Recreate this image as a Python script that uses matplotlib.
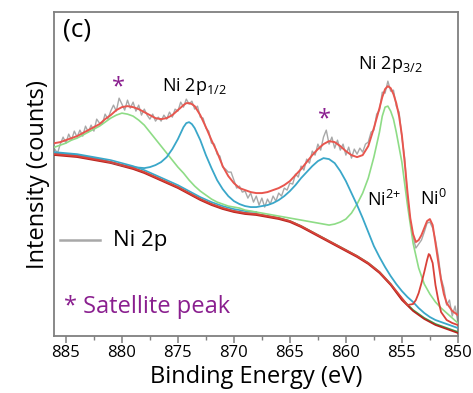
import matplotlib
matplotlib.use("Agg")
import matplotlib.pyplot as plt
from matplotlib.ticker import MultipleLocator

plt.rcParams['font.family'] = ['Open Sans', 'DejaVu Sans']
plt.rcParams['mathtext.fontset'] = 'custom'
plt.rcParams['mathtext.rm'] = 'Open Sans'
plt.rcParams['mathtext.it'] = 'Open Sans'

# ---------------- data (arbitrary intensity units) ----------------
# Shirley-type background
bg_E = [886, 885, 884, 883, 882, 881, 880, 879, 878, 877, 876, 875, 874, 873,
        872, 871, 870, 869, 868, 867, 866, 865, 864, 863, 862, 861, 860, 859,
        858, 857, 856, 855, 854, 853, 852, 851, 850]
bg_I = [182, 181, 180, 178, 176, 174, 171, 168, 164, 159, 154, 149, 143, 137,
        132, 128, 125, 123, 122, 120, 118, 115, 110, 104, 98, 92, 86, 80,
        73, 64, 52, 37, 26, 18, 12, 8, 4]

# cyan background copy (left part)
bgc_E = [886, 885, 884, 883, 882, 881, 880, 879, 878, 877, 876, 875, 874, 873,
         872, 871, 870, 869, 868]
bgc_I = [184, 183, 182, 180, 178, 176, 173, 170, 166, 161, 156, 151, 145, 139,
         134, 130, 127, 125, 124]

# green component: satellite (~880 eV) + Ni2+ 2p3/2 (~856.5 eV) + background
green_E = [886, 885.5, 885, 884.5, 884, 883.5, 883, 882.5, 882, 881.5, 881, 880.5,
           880, 879.5, 879, 878.5, 878, 877.5, 877, 876.5, 876, 875.5, 875, 874.5,
           874, 873.5, 873, 872.5, 872, 871.5, 871, 870.5, 870, 869.5, 869, 868.5,
           868, 867.5, 867, 866.5, 866, 865.5, 865, 864.5, 864, 863.5, 863, 862.5,
           862, 861.5, 861, 860.5, 860, 859.5, 859, 858.5, 858, 857.5, 857, 856.75,
           856.5, 856.25, 856, 855.75, 855.5, 855, 854.5, 854, 853.5, 853, 852.5,
           852, 851.5, 851, 850.5, 850]
green_I = [189, 191, 193, 196, 198, 201, 204, 207, 210, 214, 218, 221,
           223, 222, 220, 216, 211, 204, 197, 190, 183, 176, 169, 163,
           156, 150, 145, 141, 137, 134, 132, 130, 129, 128, 126, 125,
           124, 123, 122, 121, 120, 119, 118, 117, 116, 115, 114, 113,
           112, 111, 112, 114, 117, 123, 132, 143, 158, 179, 204, 220,
           229, 230, 225, 217, 204, 174, 131, 93, 68, 52, 42,
           34, 28, 23, 18, 13]

# cyan component: Ni 2p1/2 (~874.2 eV) + satellite (~862 eV) + background
cyan_E = [886, 885, 884, 883, 882, 881, 880, 879, 878, 877.5, 877, 876.5, 876,
          875.5, 875, 874.5, 874.25, 874, 873.75, 873.5, 873, 872.5, 872, 871.5,
          871, 870.5, 870, 869.5, 869, 868.5, 868, 867.5, 867, 866.5, 866, 865.5,
          865, 864.5, 864, 863.5, 863, 862.5, 862, 861.5, 861, 860.5, 860, 859.5,
          859, 858.5, 858, 857.5, 857, 856.5, 856, 855.5, 855, 854.5, 854, 853.5,
          853, 852.5, 852, 851.5, 851, 850.5, 850]
cyan_I = [183, 182, 181, 179, 177, 174, 171, 169, 168, 169, 171, 174, 179,
          187, 197, 209, 213, 214, 212, 208, 196, 181, 168, 156,
          147, 140, 135, 132, 130, 129, 129, 130, 131, 133, 136, 140,
          145, 151, 158, 164, 170, 175, 178, 177, 173, 165, 155, 143,
          131, 118, 104, 90, 79, 69, 60, 52, 45, 39, 34, 28,
          23, 19, 16, 14, 12, 10, 8]

# red component: Ni0 2p3/2 (~852.6 eV) + background
red_E = [886, 885, 884, 883, 882, 881, 880, 879, 878, 877, 876, 875, 874, 873,
         872, 871, 870, 869, 868, 867, 866, 865, 864, 863, 862, 861, 860, 859,
         858, 857, 856, 855, 854.5, 854, 853.75, 853.5, 853.25, 853, 852.75,
         852.6, 852.5, 852.25, 852, 851.75, 851.5, 851, 850.5, 850]
red_I = [182, 181, 180, 178, 176, 174, 171, 168, 164, 159, 154, 149, 143, 137,
         132, 128, 125, 123, 122, 120, 118, 115, 110, 104, 98, 92, 86, 80,
         73, 64, 52, 38, 31, 32, 36, 43, 53, 64, 76,
         82, 81, 73, 51, 36, 24, 16, 13, 11]

# fitted envelope
env_E = [886, 885.5, 885, 884.5, 884, 883.5, 883, 882.5, 882, 881.5, 881, 880.5,
         880, 879.5, 879, 878.5, 878, 877.5, 877, 876.5, 876, 875.5, 875, 874.5,
         874.25, 874, 873.75, 873.5, 873, 872.5, 872, 871.5, 871, 870.5, 870,
         869.5, 869, 868.5, 868, 867.5, 867, 866.5, 866, 865.5, 865, 864.5, 864,
         863.5, 863, 862.5, 862, 861.5, 861, 860.5, 860, 859.5, 859, 858.5, 858,
         857.5, 857, 856.75, 856.5, 856.25, 856, 855.75, 855.5, 855.25, 855,
         854.75, 854.5, 854.25, 854, 853.75, 853.5, 853.25, 853, 852.75, 852.5,
         852.25, 852, 851.75, 851.5, 851.25, 851, 850.5, 850]
env_I = [193, 194, 196, 198, 200, 203, 206, 209, 212, 217, 221, 226,
         229, 230, 229, 227, 224, 221, 218, 217, 218, 221, 226, 231,
         233, 233, 232, 230, 221, 209, 196, 184, 170, 160, 153,
         148, 146, 144, 143, 143, 144, 146, 148, 151, 155, 161, 167,
         174, 181, 187, 192, 195, 194, 190, 185, 181, 179, 181, 190,
         208, 228, 239, 247, 250, 248, 242, 233, 220, 201,
         174, 144, 118, 102, 94, 96, 101, 108, 115, 117,
         111, 93, 74, 56, 42, 33, 25, 21]

# raw spectrum, 0.25 eV steps from 886 to 850
raw_E = [886 - 0.25 * i for i in range(145)]
raw_I = [187, 183, 192, 199, 193, 202, 196, 205, 199, 206, 200, 210, 204, 211,
         205, 217, 213, 212, 222, 217, 225, 231, 225, 238, 232, 226, 236, 228,
         234, 225, 231, 221, 227, 221, 217, 222, 215, 219, 215, 221, 217, 224,
         219, 227, 225, 234, 229, 237, 232, 235, 227, 230, 219, 218, 208, 205,
         193, 192, 182, 180, 169, 167, 164, 164, 156, 148, 150, 144, 145, 138,
         143, 134, 140, 131, 138, 129, 137, 132, 140, 135, 143, 140, 148, 146,
         153, 152, 162, 159, 170, 166, 177, 173, 185, 181, 192, 186, 199, 206,
         192, 199, 188, 196, 186, 192, 181, 189, 178, 187, 182, 188, 184, 192,
         194, 204, 206, 222, 226, 244, 243, 255, 245, 246, 230, 224, 199, 178,
         140, 115, 99, 88, 92, 96, 104, 113, 114, 108, 96, 80, 58, 48, 31, 36,
         20, 30, 14]

# ---------------- styling ----------------
c_raw = '#a8a8a8'
c_env = '#e8564e'
c_red = '#d9423a'
c_bg_red = '#b8241e'
c_bg_green = '#3e9a48'
c_cyan = '#3aa7c9'
c_green = '#8edc86'
c_purple = '#8a1f8f'
c_frame = '#7f7f7f'

fig = plt.figure(figsize=(4.73, 3.93), dpi=100)
ax = fig.add_axes([0.114, 0.145, 0.854, 0.824])

ax.plot(raw_E, raw_I, color=c_raw, lw=1.0, zorder=2)
ax.plot(bg_E, bg_I, color=c_bg_green, lw=1.3, zorder=3)
ax.plot(bg_E, [v - 1 for v in bg_I], color=c_bg_red, lw=1.2, zorder=3)
ax.plot(bgc_E, bgc_I, color=c_cyan, lw=1.2, zorder=3)
ax.plot(green_E, green_I, color=c_green, lw=1.2, zorder=4)
ax.plot(cyan_E, cyan_I, color=c_cyan, lw=1.3, zorder=4)
ax.plot(red_E, red_I, color=c_red, lw=1.3, zorder=4)
ax.plot(env_E, env_I, color=c_env, lw=1.4, zorder=5)

ax.set_xlim(886.07, 850)
ax.set_ylim(0, 324)
ax.xaxis.set_major_locator(MultipleLocator(5))
ax.xaxis.set_minor_locator(MultipleLocator(2.5))
ax.set_yticks([])
ax.tick_params(axis='x', which='major', direction='out', length=5, width=1.1,
               color=c_frame, labelsize=12, pad=1.5)
ax.tick_params(axis='x', which='minor', direction='out', length=3, width=1.0,
               color=c_frame)
for s in ax.spines.values():
    s.set_color(c_frame)
    s.set_linewidth(1.3)

ax.set_xlabel('Binding Energy (eV)', fontsize=17, labelpad=3)
ax.set_ylabel('Intensity (counts)', fontsize=17, labelpad=3)

ax.text(0.022, 0.985, '(c)', transform=ax.transAxes, fontsize=19,
        va='top', ha='left')
ax.text(880.3, 237, '*', color=c_purple, fontsize=17, ha='center', va='bottom')
ax.text(873.5, 250, r'Ni 2p$_{1/2}$', fontsize=13, ha='center', va='center')
ax.text(861.9, 205, '*', color=c_purple, fontsize=17, ha='center', va='bottom')
ax.text(856.0, 272, r'Ni 2p$_{3/2}$', fontsize=13, ha='center', va='center')
ax.text(856.6, 136, r'Ni$^{2{+}}$', fontsize=13, ha='center', va='center')
ax.text(852.2, 137, r'Ni$^{0}$', fontsize=13, ha='center', va='center')

# legend-like annotations
ax.plot([885.5, 882.0], [96, 96], color=c_raw, lw=1.8)
ax.text(880.8, 96, 'Ni 2p', fontsize=16, va='center', ha='left')
ax.text(885.2, 29, '* Satellite peak', fontsize=17, va='center', ha='left',
        color=c_purple)

fig.savefig('out.png', dpi=100)
